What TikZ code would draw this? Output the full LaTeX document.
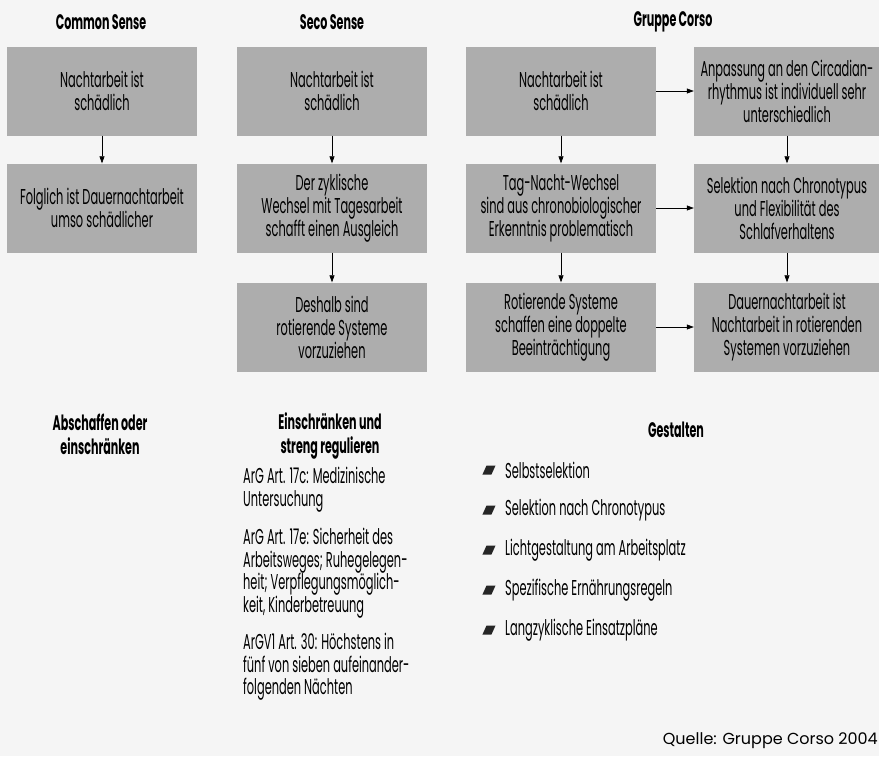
\documentclass[tikz,border=0pt]{standalone}
\usepackage{fontspec}
\setmainfont[FakeStretch=0.53]{Poppins}
\newfontfamily\sourcefont{Poppins}
\usetikzlibrary{arrows.meta}
\tikzset{
  stepbox/.style={fill=black!32, minimum width=190pt, minimum height=89pt,
    align=center, inner sep=0pt,
    font=\fontsize{21.5}{23}\selectfont},
  colhead/.style={font=\bfseries\fontsize{21}{24}\selectfont, align=center},
  bodytext/.style={font=\fontsize{21.5}{22.5}\selectfont, align=left,
    inner sep=0pt, anchor=north west},
  listtext/.style={font=\fontsize{21.5}{22.5}\selectfont, inner sep=0pt, anchor=west},
  listmark/.style={fill=black!85, minimum width=9pt, minimum height=9pt,
    inner sep=0pt, xslant=0.45},
}
\begin{document}
\begin{tikzpicture}[x=1pt,y=-1pt]
  \useasboundingbox[fill=black!4] (0,0) rectangle (879,756);
  \node[colhead] (common) at (101,22) {Common Sense};
  \node[colhead] (seco) at (332,22) {Seco Sense};
  \node[colhead] (corso) at (673,22) {Gruppe Corso};

  \node[stepbox] (cs1) at (102,91) {Nachtarbeit ist\\schädlich};
  \node[stepbox] (cs2) at (102,208) {Folglich ist Dauernachtarbeit\\umso schädlicher};

  \node[stepbox] (ss1) at (332,91) {Nachtarbeit ist\\schädlich};
  \node[stepbox] (ss2) at (332,208) {Der zyklische\\Wechsel mit Tagesarbeit\\schafft einen Ausgleich};
  \node[stepbox] (ss3) at (332,327) {Deshalb sind\\rotierende Systeme\\vorzuziehen};

  \node[stepbox] (gc1) at (561,91) {Nachtarbeit ist\\schädlich};
  \node[stepbox] (gc2) at (561,208) {Tag-Nacht-Wechsel\\sind aus chronobiologischer\\Erkenntnis problematisch};
  \node[stepbox] (gc3) at (561,327) {Rotierende Systeme\\schaffen eine doppelte\\Beeinträchtigung};

  \node[stepbox, minimum width=186pt] (gr1) at (787,91) {Anpassung an den Circadian-\\rhythmus ist individuell sehr\\unterschiedlich};
  \node[stepbox, minimum width=186pt] (gr2) at (787,208) {Selektion nach Chronotypus\\und Flexibilität des\\Schlafverhaltens};
  \node[stepbox, minimum width=186pt] (gr3) at (787,327) {Dauernachtarbeit ist\\Nachtarbeit in rotierenden\\Systemen vorzuziehen};

  \begin{scope}[-{Triangle[length=7pt,width=5pt]}, semithick]
    \draw (cs1) to (cs2);
    \draw (ss1) to (ss2);
    \draw (ss2) to (ss3);
    \draw (gc1) to (gc2);
    \draw (gc2) to (gc3);
    \draw (gr1) to (gr2);
    \draw (gr2) to (gr3);
    \draw (gc1) to (gr1);
    \draw (gc2) to (gr2);
    \draw (gc3) to (gr3);
  \end{scope}

  \node[colhead] (abolish) at (100,434) {Abschaffen oder\\einschränken};
  \node[colhead] (restrict) at (330,436) {Einschränken und\\streng regulieren};
  \node[bodytext] (reg17c) at (243,467) {ArG Art. 17c: Medizinische\\Untersuchung};
  \node[bodytext] (reg17e) at (243,528) {ArG Art. 17e: Sicherheit des\\Arbeitsweges; Ruhegelegen-\\heit; Verpflegungsmöglich-\\keit, Kinderbetreuung};
  \node[bodytext] (reg30) at (243,633) {ArGV1 Art. 30: Höchstens in\\fünf von sieben aufeinander-\\folgenden Nächten};

  \node[colhead] (shape) at (676,430) {Gestalten};
  \node[listmark] (m1) at (489,470) {};
  \node[listmark] (m2) at (489,510) {};
  \node[listmark] (m3) at (489,550) {};
  \node[listmark] (m4) at (489,590) {};
  \node[listmark] (m5) at (489,630) {};
  \node[listtext] (l1) at (505,470) {Selbstselektion};
  \node[listtext] (l2) at (505,510) {Selektion nach Chronotypus};
  \node[listtext] (l3) at (505,550) {Lichtgestaltung am Arbeitsplatz};
  \node[listtext] (l4) at (505,590) {Spezifische Ernährungsregeln};
  \node[listtext] (l5) at (505,630) {Langzyklische Einsatzpläne};

  \node[font=\sourcefont\fontsize{16}{18}\selectfont, anchor=east, inner sep=0pt] (source) at (878,741) {Quelle: Gruppe Corso 2004};
\end{tikzpicture}
\end{document}
